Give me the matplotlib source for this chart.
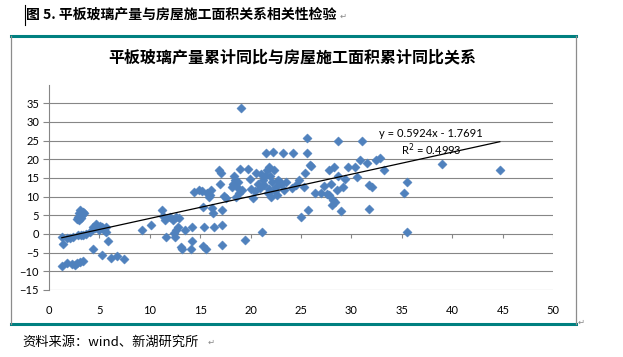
import numpy as np
import matplotlib
matplotlib.use('Agg')
import matplotlib.pyplot as plt
from matplotlib.lines import Line2D

plt.rcParams['font.family'] = ['Lato', 'DejaVu Sans']

# data: house construction area yoy (x) vs flat glass output yoy (y)
x_area = [
    1.3, 1.45, 1.8, 2.1, 2.4, 2.9, 3.2, 3.4, 3.7, 4.1, 4.4, 4.7, 5.1, 5.3, 5.5, 5.7, 5.7, 5.0, 4.6,
    1.3, 1.8, 2.3, 2.6, 2.8, 3.1, 3.4,
    2.9, 3.1, 3.0, 3.4, 3.0, 3.2, 3.3, 3.5, 2.8,
    4.4, 5.9, 5.3, 6.2, 6.8, 7.5,
    9.2, 10.1, 11.2, 11.3, 11.5, 11.6, 12.0, 12.3, 12.6, 12.6, 12.8, 12.5, 12.4, 13.1, 13.2, 13.5,
    14.1, 14.2, 14.2, 14.4, 14.9, 15.3, 15.3, 15.4, 15.6, 15.7, 15.9, 16.1, 16.2, 16.3, 16.4,
    16.9, 17.0, 17.1, 17.2, 17.2, 17.2, 17.4, 17.6, 16.0, 15.2, 12.9,
    18.2, 18.4, 18.5, 18.6, 18.7, 18.9, 19.0, 19.1, 19.2, 19.5, 19.7, 19.9, 20.0, 20.2, 20.5,
    20.9, 21.1, 21.2, 21.4, 21.5, 21.6, 21.7, 21.8, 22.0, 22.2, 22.3, 22.5, 22.7, 23.2, 23.3,
    24.1, 24.2, 24.8, 25.0, 25.3, 25.6, 25.6, 25.7, 25.4, 25.9, 26.4,
    18.3, 18.8, 20.7, 21.0, 21.3, 21.9, 22.1, 22.4, 22.9, 23.0, 23.5, 21.8, 22.6, 20.4, 24.5,
    27.3, 28.0, 27.8, 28.3, 28.7, 28.7, 29.0, 28.6, 28.2, 28.1, 27.8, 27.6, 29.2, 29.4, 29.7,
    30.4, 30.5, 30.8, 31.0, 31.5, 31.7, 32.0, 31.7, 32.4, 32.8, 33.2, 35.2, 35.5, 35.5,
    39.0, 44.7, 26.0, 28.4, 27.0,
]
y_glass = [
    -0.7, -2.7, -1.2, -1.0, -0.8, -0.3, -0.2, -0.3, 0.0, 0.6, 2.0, 2.7, 2.1, 1.8, 1.2, 2.0, 0.6, 1.0, 1.5,
    -8.6, -7.9, -8.1, -8.3, -7.7, -7.4, -7.2,
    4.6, 6.4, 5.5, 6.0, 3.75, 4.2, 5.0, 5.7, 4.0,
    -4.1, -1.9, -5.6, -6.3, -5.8, -6.8,
    1.1, 2.4, 6.4, 4.9, 3.75, -0.7, 4.6, 3.75, 1.1, 4.6, 2.0, -0.7, 0.3, -3.4, -4.1, 1.1,
    -4.1, -1.9, 1.8, 11.3, 11.8, 7.3, -3.2, 1.8, -4.1, 10.9, 10.0, 11.8, 6.9, 5.5, 2.0,
    17.0, 13.3, 16.3, 2.4, -2.9, 6.4, 10.2, 9.6, 10.5, 11.5, 4.3,
    12.7, 15.4, 14.5, 10.0, 12.7, 10.9, 17.4, 33.7, 11.8, -1.6, 17.4, 14.6, 12.0, 9.6, 16.3,
    12.2, 0.4, 14.5, 15.4, 21.6, 17.1, 10.9, 18.0, 10.0, 22.0, 17.1, 12.7, 14.5, 21.6, 11.8,
    12.2, 21.6, 14.5, 4.6, 12.7, 25.6, 21.6, 6.4, 16.3, 18.5, 10.9,
    13.5, 14.0, 13.5, 16.0, 13.0, 15.5, 13.8, 11.5, 14.0, 13.5, 14.0, 12.0, 10.5, 11.5, 13.0,
    12.9, 13.3, 17.1, 18.0, 25.0, 15.5, 6.2, 11.8, 9.1, 7.8, 10.4, 10.8, 12.7, 14.6, 18.0,
    18.0, 15.2, 19.8, 25.0, 19.1, 13.1, 12.7, 6.6, 19.8, 20.3, 17.1, 10.9, 13.8, 0.6,
    18.7, 17.1, 18.2, 8.5, 11.0,
]

# linear trend as given in the chart
slope = 0.5924
intercept = -1.7691
r2 = 0.4993

x_ticks = [0, 5, 10, 15, 20, 25, 30, 35, 40, 45, 50]
y_ticks = [-15, -10, -5, 0, 5, 10, 15, 20, 25, 30, 35]

W, H = 623, 357
fig = plt.figure(figsize=(W / 100, H / 100), dpi=100)

def fy(py):
    return 1 - py / H

# axes placed in pixel terms
left, right = 48.7, 553.3
top_px, bot_px = 84.6, 290.0
ax = fig.add_axes([left / W, fy(bot_px), (right - left) / W, (bot_px - top_px) / H])

grid_c = '#868686'
ax.set_xlim(0, 50)
ax.set_ylim(-15, 40)
for v in y_ticks:
    ax.axhline(v, color=grid_c, lw=0.8, zorder=1)

ax.scatter(x_area, y_glass, marker='D', s=22, color='#4F81BD', edgecolors='#4F81BD',
           linewidths=0.3, zorder=3)

xs = np.array([min(x_area), max(x_area)])
ax.plot(xs, slope * xs + intercept, color='black', lw=0.9, zorder=4)

ax.text(37.9, 26.8, f'y = {slope}x - {abs(intercept)}', ha='center', va='center', fontsize=8, zorder=5)
ax.text(37.9, 22.6, f'R$^2$ = {r2}', ha='center', va='center', fontsize=8, zorder=5)

for s in ['top', 'right', 'bottom']:
    ax.spines[s].set_visible(False)
ax.spines['left'].set_color(grid_c)
ax.spines['left'].set_linewidth(0.8)

ax.set_yticks(y_ticks)
ax.set_xticks(x_ticks)
ax.tick_params(axis='y', length=4, width=0.8, color=grid_c, labelsize=8, pad=3)
ax.tick_params(axis='x', length=0, labelsize=8, pad=11)
# small tick marks on the x axis line at y=0
ax.vlines(x_ticks, -1.1, 0, color=grid_c, lw=0.8, zorder=1)

# frame around chart
teal = '#008080'
fig.add_artist(Line2D([10.5 / W, 576 / W], [fy(36), fy(36)], color=teal, lw=2.2))
fig.add_artist(Line2D([10.5 / W, 576 / W], [fy(324), fy(324)], color=teal, lw=2.2))
fig.add_artist(Line2D([10.7 / W, 10.7 / W], [fy(36), fy(324)], color='#8c8c8c', lw=0.9))
fig.add_artist(Line2D([575.7 / W, 575.7 / W], [fy(36), fy(324)], color='#8c8c8c', lw=0.9))

cjk = ['Noto Sans CJK SC', 'DejaVu Sans']
fig.text(292 / W, fy(57), '平板玻璃产量累计同比与房屋施工面积累计同比关系', ha='center', va='center',
         fontsize=11.5, fontweight='bold', family=cjk)
fig.text(26 / W, fy(15), '图 5. 平板玻璃产量与房屋施工面积关系相关性检验', ha='left', va='center',
         fontsize=10, fontweight='bold', family=cjk)
fig.add_artist(Line2D([24.5 / W, 24.5 / W], [fy(5), fy(25)], color='black', lw=0.8))
fig.text(340 / W, fy(16), '↵', ha='left', va='center', fontsize=6, color='#888888', family=cjk)
fig.text(22 / W, fy(342), '资料来源：wind、新湖研究所', ha='left', va='center',
         fontsize=9.5, family=cjk)
fig.text(208 / W, fy(342), '↵', ha='left', va='center', fontsize=6, color='#888888', family=cjk)
fig.text(578 / W, fy(322), '↵', ha='left', va='center', fontsize=6, color='#888888', family=cjk)

fig.savefig('out.png', dpi=100)
